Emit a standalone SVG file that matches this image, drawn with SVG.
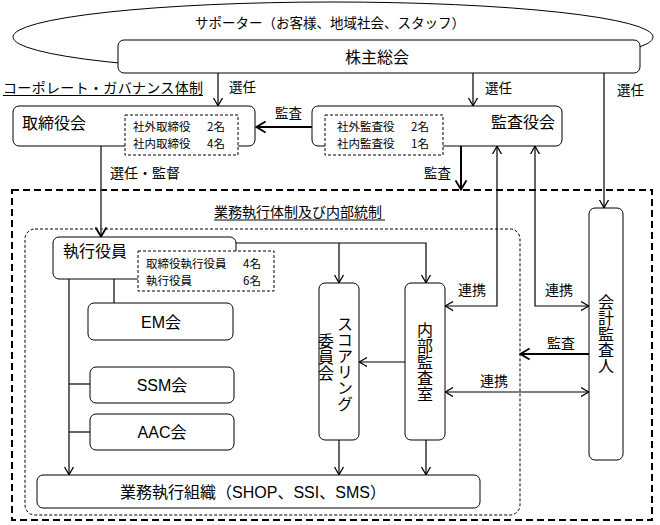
<svg xmlns="http://www.w3.org/2000/svg" width="660" height="525" viewBox="0 0 660 525">
<defs>
<style>
text{font-family:"Noto Sans CJK JP","Liberation Sans",sans-serif;fill:#000}
.lat{font-family:"Liberation Sans","Noto Sans CJK JP",sans-serif}
.box{fill:#fff;stroke:#000;stroke-width:1}
.dbox{fill:#fff;stroke:#000;stroke-width:1;stroke-dasharray:3,2}
.ln{fill:none;stroke:#000;stroke-width:1.2}
.lnb{fill:none;stroke:#000;stroke-width:2}
.vt{writing-mode:vertical-rl}
.t16{font-size:16px}
.t14{font-size:14px}
.t13{font-size:13.5px}
.t12{font-size:11.5px}
</style>
<marker id="ah" markerUnits="userSpaceOnUse" viewBox="0 0 10 12" refX="9.3" refY="6" markerWidth="9" markerHeight="11" orient="auto-start-reverse">
<path d="M0,0.8 L9,6 L0,11.2" fill="none" stroke="#000" stroke-width="1.4"/>
</marker>
<marker id="ahb" markerUnits="userSpaceOnUse" viewBox="0 0 12 14" refX="11" refY="7" markerWidth="11" markerHeight="13" orient="auto-start-reverse">
<path d="M0.5,1 L10.5,7 L0.5,13" fill="none" stroke="#000" stroke-width="2"/>
</marker>
</defs>
<rect width="660" height="525" fill="#fff"/>

<g id="supporters">
<ellipse cx="333" cy="37" rx="320" ry="35" fill="none" stroke="#000" stroke-width="1"/>
<text x="330" y="28" text-anchor="middle" style="font-size:13.5px">サポーター（お客様、地域社会、スタッフ）</text>
</g>

<g id="governance-label">
<text x="3" y="93" class="t14" textLength="200">コーポレート・ガバナンス体制</text>
<line x1="3" y1="95.5" x2="203" y2="95.5" stroke="#000" stroke-width="1"/>
</g>

<g id="execution-area">
<rect x="12" y="190" width="640" height="330" fill="none" stroke="#000" stroke-width="2" stroke-dasharray="7,4"/>
<text x="214" y="217" class="t14">業務執行体制及び内部統制</text>
<line x1="214" y1="220" x2="385" y2="220" stroke="#000" stroke-width="1"/>
</g>

<g id="internal-area">
<rect x="25" y="229" width="495" height="286" rx="10" fill="none" stroke="#000" stroke-width="1" stroke-dasharray="3,2"/>
</g>

<g id="connectors">
<path class="ln" d="M218,73 V106" marker-end="url(#ah)"/>
<path class="ln" d="M473,73 V106" marker-end="url(#ah)"/>
<path class="ln" d="M604,73 V208" marker-end="url(#ah)"/>
<path class="lnb" d="M312,127 H256" marker-end="url(#ahb)"/>
<path d="M101,146 V237" fill="none" stroke="#444" stroke-width="1.6" marker-end="url(#ahb)"/>
<path class="lnb" d="M461,146 V190" marker-end="url(#ahb)"/>
<path class="ln" d="M445,306 H497 V146" marker-start="url(#ah)" marker-end="url(#ah)"/>
<path class="ln" d="M589,306 H535 V146" marker-start="url(#ah)" marker-end="url(#ah)"/>
<path class="lnb" d="M589,354 H520" marker-end="url(#ahb)"/>
<path class="ln" d="M445,392 H589" marker-start="url(#ah)" marker-end="url(#ah)"/>
<path class="ln" d="M405,362 H359" marker-end="url(#ah)"/>
<path class="ln" d="M236,243 H426 V283" marker-end="url(#ah)"/>
<path class="ln" d="M339,243 V283" marker-end="url(#ah)"/>
<path class="ln" d="M339,440 V475" marker-end="url(#ah)"/>
<path class="ln" d="M426,440 V475" marker-end="url(#ah)"/>
<path class="ln" d="M69,279 V475" marker-end="url(#ah)"/>
<path class="ln" d="M69,384 H90"/>
<path class="ln" d="M69,432 H90"/>
<path class="ln" d="M114,279 V303"/>
<text x="229" y="92" class="t13">選任</text>
<text x="485" y="93" class="t13">選任</text>
<text x="617" y="95" class="t13">選任</text>
<text x="275" y="118" class="t13">監査</text>
<text x="110" y="178" class="t14">選任・監督</text>
<text x="424" y="178" class="t13">監査</text>
<text x="458" y="295" class="t14">連携</text>
<text x="545" y="295" class="t14">連携</text>
<text x="547" y="348" class="t14">監査</text>
<text x="480" y="386" class="t14">連携</text>
</g>

<g id="shareholders">
<rect class="box" x="118" y="40" width="522" height="33" rx="6"/>
<text x="345" y="63" class="t16">株主総会</text>
</g>

<g id="board">
<rect class="box" x="13" y="106" width="242" height="40" rx="6"/>
<text x="22" y="129" class="t16">取締役会</text>
<rect class="dbox" x="125" y="115" width="113" height="40"/>
<text class="t12" y="131"><tspan x="133">社外取締役</tspan><tspan x="207">2名</tspan></text>
<text class="t12" y="147.5"><tspan x="133">社内取締役</tspan><tspan x="207">4名</tspan></text>
</g>

<g id="auditors-board">
<rect class="box" x="312" y="106" width="250" height="40" rx="6"/>
<text x="491" y="128" class="t16">監査役会</text>
<rect class="dbox" x="325" y="115" width="118" height="40"/>
<text class="t12" y="131"><tspan x="337">社外監査役</tspan><tspan x="411">2名</tspan></text>
<text class="t12" y="147.5"><tspan x="337">社内監査役</tspan><tspan x="411">1名</tspan></text>
</g>

<g id="officers">
<rect class="box" x="53" y="237" width="183" height="42" rx="6"/>
<text x="63" y="257" class="t16">執行役員</text>
<rect class="dbox" x="138" y="251" width="136" height="40"/>
<text class="t12" y="268"><tspan x="146">取締役執行役員</tspan><tspan x="243">4名</tspan></text>
<text class="t12" y="284.5"><tspan x="146">執行役員</tspan><tspan x="243">6名</tspan></text>
</g>

<g id="em">
<rect class="box" x="88" y="303" width="145" height="37" rx="6"/>
<text x="161" y="328" class="t16 lat" text-anchor="middle">EM会</text>
</g>

<g id="ssm">
<rect class="box" x="90" y="367" width="144" height="36" rx="6"/>
<text x="162" y="391" class="t16 lat" text-anchor="middle">SSM会</text>
</g>

<g id="aac">
<rect class="box" x="90" y="414" width="144" height="36" rx="6"/>
<text x="162" y="438" class="t16 lat" text-anchor="middle">AAC会</text>
</g>

<g id="scoring">
<rect class="box" x="319" y="283" width="40" height="157" rx="6"/>
<text x="345" y="316" class="t16 vt">スコアリング</text>
<text x="326" y="333" class="t16 vt">委員会</text>
</g>

<g id="internal-audit">
<rect class="box" x="405" y="283" width="40" height="157" rx="6"/>
<text x="425" y="322" class="t16 vt">内部監査室</text>
</g>

<g id="accounting-auditor">
<rect class="box" x="589" y="208" width="34" height="252" rx="6"/>
<text x="606" y="294" class="t16 vt">会計監査人</text>
</g>

<g id="business-org">
<rect class="box" x="37" y="475" width="443" height="33" rx="6"/>
<text x="253" y="498" class="t16 lat" text-anchor="middle">業務執行組織（SHOP、SSI、SMS）</text>
</g>
</svg>
